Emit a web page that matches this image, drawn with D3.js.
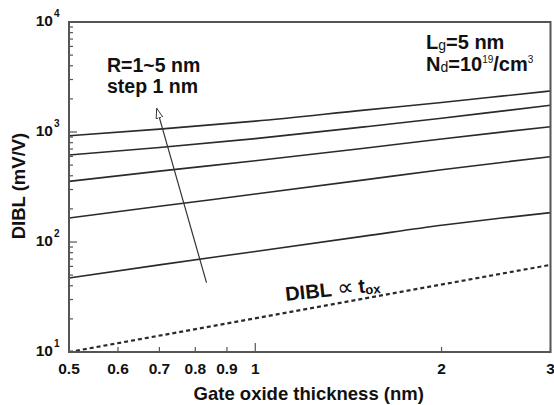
<!DOCTYPE html>
<html>
<head>
<meta charset="utf-8">
<script src="https://cdn.jsdelivr.net/npm/d3@7"></script>
<style>
  body { margin: 0; background: #fff; }
  svg text { font-family: "Liberation Sans", Arial, sans-serif; font-weight: bold; fill: #111; }
</style>
</head>
<body>
<svg id="chart" width="554" height="405"></svg>
<script>
// --- data
const thickness = [0.5, 0.7, 1, 1.5, 2, 2.5, 3];          // gate oxide thickness, nm
const diblR1 = [47, 62, 82, 113, 142, 165, 185];           // mV/V
const diblR2 = [165, 211, 273, 367, 454, 529, 596];
const diblR3 = [356, 441, 547, 711, 865, 998, 1117];
const diblR4 = [618, 723, 871, 1113, 1334, 1549, 1749];
const diblR5 = [925, 1062, 1255, 1581, 1857, 2118, 2360];
const propX = [0.5, 3];                                     // DIBL ∝ tox reference
const propY = [10, 62];
const xTickVals = [0.5, 0.6, 0.7, 0.8, 0.9, 1, 2, 3];
const xTickLabels = ['0.5', '0.6', '0.7', '0.8', '0.9', '1', '2', '3'];
const yDecades = [10, 100, 1000, 10000];
const yDecadeExp = ['1', '2', '3', '4'];

const W = 554, H = 405;
const margin = { t: 22, r: 3.5, b: 53, l: 69 };

const svg = d3.select('#chart');

const x = d3.scaleLog().domain([0.5, 3]).range([margin.l, W - margin.r]);
const y = d3.scaleLog().domain([10, 10000]).range([H - margin.b, margin.t]);

const ink = '#2a2a2a';

// --- ticks (inside the frame)
const yMinor = [];
for (let d = 10; d < 10000; d *= 10) for (let k = 2; k <= 9; k++) yMinor.push(k * d);

svg.append('g').selectAll('line').data(yMinor).join('line')
  .attr('x1', x(0.5)).attr('x2', x(0.5) + 4)
  .attr('y1', d => y(d)).attr('y2', d => y(d))
  .attr('stroke', '#555').attr('stroke-width', 1.2);

svg.append('g').selectAll('line').data(yDecades).join('line')
  .attr('x1', x(0.5)).attr('x2', x(0.5) + 8)
  .attr('y1', d => y(d)).attr('y2', d => y(d))
  .attr('stroke', '#555').attr('stroke-width', 1.2);

svg.append('g').selectAll('line').data(xTickVals).join('line')
  .attr('x1', d => x(d)).attr('x2', d => x(d))
  .attr('y1', y(10)).attr('y2', d => y(10) - (d === 1 ? 9 : 5))
  .attr('stroke', '#555').attr('stroke-width', 1.2);

// --- tick labels
svg.append('g').selectAll('text').data(xTickVals).join('text')
  .attr('x', d => x(d)).attr('y', y(10) + 22)
  .attr('text-anchor', 'middle').attr('font-size', 15.5)
  .text((d, i) => xTickLabels[i]);

const yl = svg.append('g').selectAll('g').data(yDecades).join('g');
yl.append('text')
  .attr('x', x(0.5) - 16).attr('y', d => y(d) + 3.5)
  .attr('text-anchor', 'end').attr('font-size', 15.5)
  .text('10');
yl.append('text')
  .attr('x', x(0.5) - 15).attr('y', d => y(d) - 5.5)
  .attr('font-size', 10).attr('font-weight', 'normal')
  .text((d, i) => yDecadeExp[i]);

// --- curves
const line = d3.line()
  .x(d => x(d[0])).y(d => y(d[1]))
  .curve(d3.curveMonotoneX);

const series = [diblR1, diblR2, diblR3, diblR4, diblR5];
svg.append('g').selectAll('path').data(series).join('path')
  .attr('d', s => line(thickness.map((t, i) => [t, s[i]])))
  .attr('fill', 'none').attr('stroke', ink).attr('stroke-width', 1.6);

svg.append('path')
  .attr('d', line(propX.map((t, i) => [t, propY[i]])))
  .attr('fill', 'none').attr('stroke', ink).attr('stroke-width', 2.2)
  .attr('stroke-dasharray', '4,3');

// --- frame
svg.append('rect')
  .attr('x', x(0.5)).attr('y', y(10000))
  .attr('width', x(3) - x(0.5)).attr('height', y(10) - y(10000))
  .attr('fill', 'none').attr('stroke', '#555').attr('stroke-width', 2);

// --- arrow (R increasing)
svg.append('defs').append('marker')
  .attr('id', 'head').attr('viewBox', '0 -5 12 10')
  .attr('refX', 11).attr('refY', 0)
  .attr('markerUnits', 'userSpaceOnUse')
  .attr('markerWidth', 11).attr('markerHeight', 9)
  .attr('orient', 'auto')
  .append('path').attr('d', 'M0,-3.8L11,0L0,3.8Z')
  .attr('fill', '#fff').attr('stroke', '#333').attr('stroke-width', 1);

svg.append('line')
  .attr('x1', x(0.834)).attr('y1', y(42.7))
  .attr('x2', x(0.693)).attr('y2', y(1641))
  .attr('stroke', '#333').attr('stroke-width', 1.2)
  .attr('marker-end', 'url(#head)');

// --- annotations
svg.append('text').attr('x', 107).attr('y', 72).attr('font-size', 19.5).text('R=1~5 nm');
svg.append('text').attr('x', 107).attr('y', 93).attr('font-size', 19.5).text('step 1 nm');

const lg = svg.append('text').attr('x', 426).attr('y', 49).attr('font-size', 20);
lg.append('tspan').text('L');
lg.append('tspan').attr('font-size', 14).attr('font-weight', 'normal').attr('dy', 1).text('g');
lg.append('tspan').attr('dy', -1).text('=5 nm');

const nd = svg.append('text').attr('x', 426).attr('y', 71).attr('font-size', 20);
nd.append('tspan').text('N');
nd.append('tspan').attr('font-size', 14).attr('font-weight', 'normal').attr('dy', 1).text('d');
nd.append('tspan').attr('dy', -1).text('=10');
nd.append('tspan').attr('font-size', 10).attr('font-weight', 'normal').attr('dy', -8).text('19');
nd.append('tspan').attr('dy', 8).text('/cm');
nd.append('tspan').attr('font-size', 10).attr('font-weight', 'normal').attr('dy', -8).text('3');

const prop = svg.append('text')
  .attr('transform', 'translate(286,301) rotate(-6)')
  .attr('font-size', 20);
prop.append('tspan').text('DIBL ');
prop.append('tspan').attr('font-weight', 'normal').attr('font-size', 23).text('\u221D');
prop.append('tspan').text(' t');
prop.append('tspan').attr('font-size', 13).attr('dy', 2).text('ox');

// --- axis titles
svg.append('text')
  .attr('x', (x(0.5) + x(3)) / 2 - 1).attr('y', 400)
  .attr('text-anchor', 'middle').attr('font-size', 18.5)
  .text('Gate oxide thickness (nm)');

svg.append('text')
  .attr('transform', `translate(25,${(y(10) + y(10000)) / 2 - 1}) rotate(-90)`)
  .attr('text-anchor', 'middle').attr('font-size', 18.5)
  .text('DIBL (mV/V)');
</script>
</body>
</html>
